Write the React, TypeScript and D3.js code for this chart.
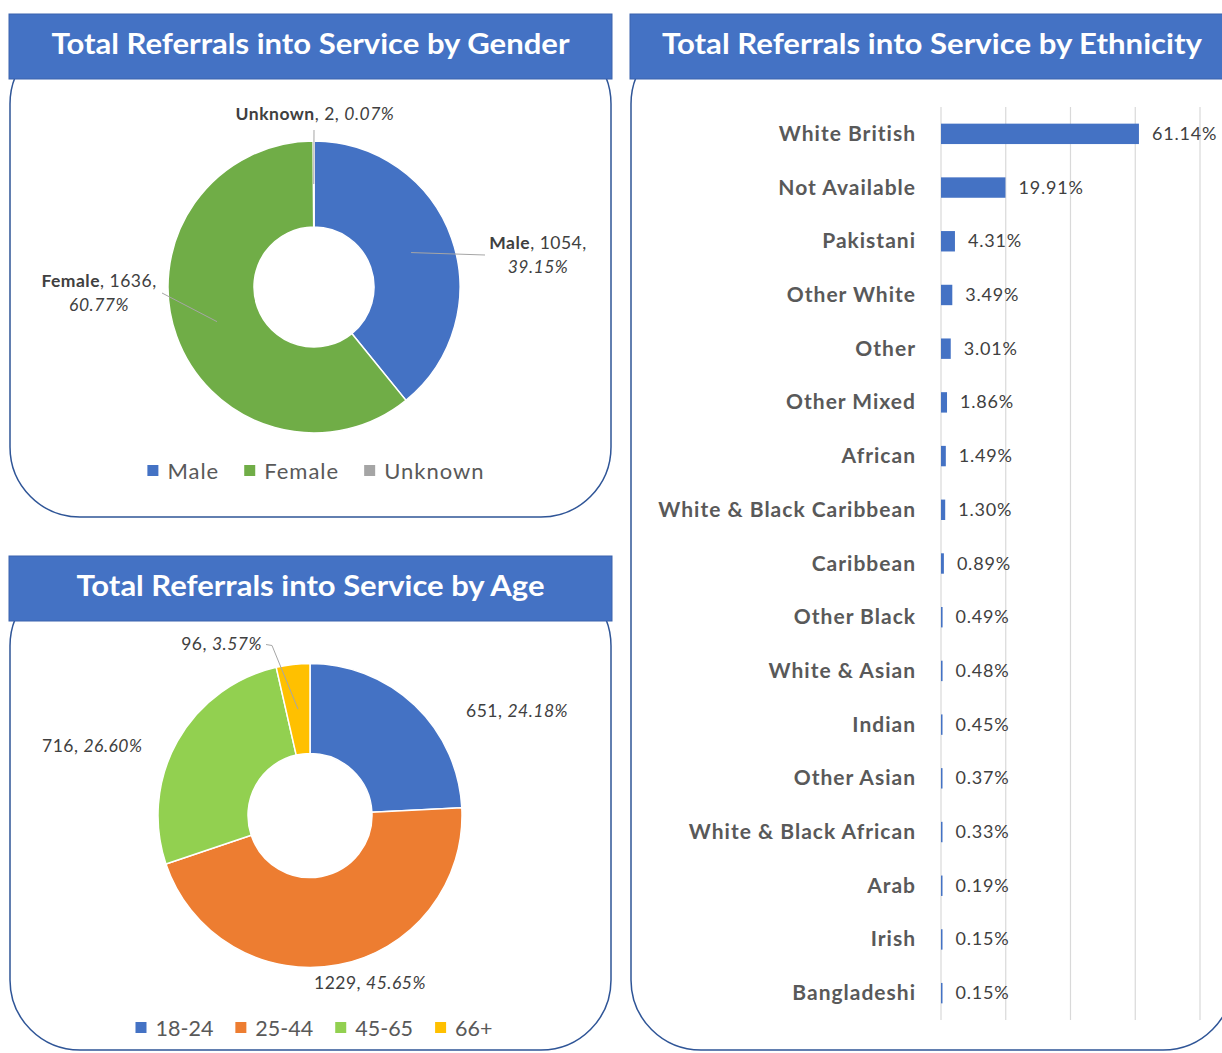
import React from "react";
import * as d3 from "d3";

const genderCats = ["Male", "Female", "Unknown"];
const genderVals = [1054, 1636, 2];
const genderPct = ["39.15%", "60.77%", "0.07%"];
const genderColors = ["#4472C4", "#70AD47", "#A5A5A5"];

const ageCats = ["18-24", "25-44", "45-65", "66+"];
const ageVals = [651, 1229, 716, 96];
const agePct = ["24.18%", "45.65%", "26.60%", "3.57%"];
const ageColors = ["#4472C4", "#ED7D31", "#92D050", "#FFC000"];

const ethCats = [
  "White British", "Not Available", "Pakistani", "Other White", "Other", "Other Mixed",
  "African", "White & Black Caribbean", "Caribbean", "Other Black", "White & Asian",
  "Indian", "Other Asian", "White & Black African", "Arab", "Irish", "Bangladeshi",
];
const ethVals = [61.14, 19.91, 4.31, 3.49, 3.01, 1.86, 1.49, 1.3, 0.89, 0.49, 0.48, 0.45, 0.37, 0.33, 0.19, 0.15, 0.15];
const ethTicks = [0, 20, 40, 60, 80];

const FONT = "Lato, 'Open Sans', sans-serif";
const BLUE = "#4472C4";
const BORDER = "#2F5597";
const TXT = "#404040";

let measureCtx: CanvasRenderingContext2D | null = null;
function measure(s: string, size: number, ls: number) {
  if (!measureCtx) measureCtx = document.createElement("canvas").getContext("2d");
  if (!measureCtx) return s.length * size * 0.5;
  measureCtx.font = `${size}px Lato`;
  return measureCtx.measureText(s).width + ls * s.length;
}

function Panel({ x, y, w, h, title, titleLen }: any) {
  return (
    <g>
      <rect x={x + 1} y={y + 20} width={w - 2} height={h - 20} rx={70} ry={70} fill="#fff" stroke={BORDER} strokeWidth={1.5} />
      <rect x={x} y={y} width={w} height={65} fill={BLUE} stroke="#3A63AD" strokeWidth={1} />
      <text x={x + w / 2} y={y + 40} textAnchor="middle" fill="#fff" fontFamily={FONT} fontWeight={700} fontSize={29}
        textLength={titleLen} lengthAdjust="spacingAndGlyphs">{title}</text>
    </g>
  );
}

function Legend({ cx, y, cats, colors, size, ls, gap }: any) {
  const widths = cats.map((c: string) => 20 + measure(c, size, ls));
  const total = d3.sum(widths) + gap * (cats.length - 1);
  let x = cx - total / 2;
  return (
    <g>
      {cats.map((c: string, i: number) => {
        const gx = x;
        x += widths[i] + gap;
        return (
          <g key={c}>
            <rect x={gx} y={y - 14} width={11} height={11} fill={colors[i]} />
            <text x={gx + 20} y={y} fontFamily={FONT} fontSize={size} letterSpacing={ls} fill="#595959">{c}</text>
          </g>
        );
      })}
    </g>
  );
}

export default function App() {
  const gC = { x: 314, y: 287 };
  const gPie = d3.pie<number>().sort(null).value((d) => d)(genderVals);
  const gArc = d3.arc<any>().innerRadius(60).outerRadius(146);
  const gMid = d3.arc<any>().innerRadius(58).outerRadius(148);
  const gCent = gPie.map((p) => gMid.centroid(p));

  const aC = { x: 310, y: 815.5 };
  const aPie = d3.pie<number>().sort(null).value((d) => d)(ageVals);
  const aArc = d3.arc<any>().innerRadius(62).outerRadius(152);
  const aCent = aPie.map((p) => aArc.centroid(p));

  const xS = d3.scaleLinear().domain([0, 80]).range([941, 1200]);
  const yS = d3.scaleBand().domain(ethCats).range([107, 1020]).paddingInner(0.62).paddingOuter(0.31);

  return (
    <svg width={1222} height={1053} style={{ position: "absolute", left: 0, top: 0, background: "#fff" }}>
      <Panel x={9} y={14} w={603} h={503} title="Total Referrals into Service by Gender" titleLen={518} />
      <Panel x={9} y={556} w={603} h={494} title="Total Referrals into Service by Age" titleLen={468} />
      <Panel x={630} y={14} w={604} h={1036} title="Total Referrals into Service by Ethnicity" titleLen={540} />

      <g transform={`translate(${gC.x},${gC.y})`}>
        {gPie.map((p, i) => (
          <path key={i} d={gArc(p) as string} fill={genderColors[i]} stroke="#fff" strokeWidth={1.5} />
        ))}
        <polyline points={`${gCent[0][0]},${gCent[0][1]} ${171},${-32}`} fill="none" stroke="#A6A6A6" strokeWidth={1} />
        <polyline points={`${gCent[1][0]},${gCent[1][1]} ${-152},${6}`} fill="none" stroke="#A6A6A6" strokeWidth={1} />
        <polyline points={`${gCent[2][0]},${gCent[2][1]} ${0},${-157}`} fill="none" stroke="#A6A6A6" strokeWidth={1} />
      </g>
      <g fontFamily={FONT} fontSize={17.5} letterSpacing={0.5} fill={TXT}>
        <text x={315} y={120} textAnchor="middle">
          <tspan fontWeight={700}>{genderCats[2]}</tspan>, {genderVals[2]}, <tspan fontStyle="italic">{genderPct[2]}</tspan>
        </text>
        <text x={538} y={249} textAnchor="middle">
          <tspan fontWeight={700}>{genderCats[0]}</tspan>, {genderVals[0]},
        </text>
        <text x={538} y={273} textAnchor="middle" fontStyle="italic">{genderPct[0]}</text>
        <text x={99} y={287} textAnchor="middle">
          <tspan fontWeight={700}>{genderCats[1]}</tspan>, {genderVals[1]},
        </text>
        <text x={99} y={311} textAnchor="middle" fontStyle="italic">{genderPct[1]}</text>
      </g>
      <Legend cx={316} y={479} cats={genderCats} colors={genderColors} size={22} ls={1} gap={25} />

      <g transform={`translate(${aC.x},${aC.y})`}>
        {aPie.map((p, i) => (
          <path key={i} d={aArc(p) as string} fill={ageColors[i]} stroke="#fff" strokeWidth={1.5} />
        ))}
        <polyline points={`${aCent[3][0]},${aCent[3][1]} ${-38},${-170} ${-44},${-171}`} fill="none" stroke="#A6A6A6" strokeWidth={1} />
      </g>
      <g fontFamily={FONT} fontSize={17.5} letterSpacing={0.5} fill={TXT}>
        <text x={466} y={717}>{ageVals[0]}, <tspan fontStyle="italic">{agePct[0]}</tspan></text>
        <text x={314} y={989}>{ageVals[1]}, <tspan fontStyle="italic">{agePct[1]}</tspan></text>
        <text x={42} y={752}>{ageVals[2]}, <tspan fontStyle="italic">{agePct[2]}</tspan></text>
        <text x={262} y={650} textAnchor="end">{ageVals[3]}, <tspan fontStyle="italic">{agePct[3]}</tspan></text>
      </g>
      <Legend cx={314} y={1036} cats={ageCats} colors={ageColors} size={21.5} ls={0} gap={22} />

      <g>
        {ethTicks.map((t) => (
          <line key={t} x1={xS(t)} x2={xS(t)} y1={107} y2={1020} stroke="#D9D9D9" strokeWidth={1.2} />
        ))}
        {ethCats.map((c, i) => {
          const y = yS(c)!;
          const bw = Math.max(xS(ethVals[i]) - xS(0), 1.5);
          return (
            <g key={c}>
              <rect x={xS(0)} y={y} width={bw} height={yS.bandwidth()} fill={BLUE} />
              <text x={916} y={y + yS.bandwidth() / 2 + 7} textAnchor="end" fontFamily={FONT} fontWeight={700} fontSize={21} letterSpacing={1} fill="#595959">{c}</text>
              <text x={xS(0) + bw + 13} y={y + yS.bandwidth() / 2 + 6} fontFamily={FONT} fontSize={18} letterSpacing={0.8} fill={TXT}>{ethVals[i].toFixed(2)}%</text>
            </g>
          );
        })}
      </g>
    </svg>
  );
}
